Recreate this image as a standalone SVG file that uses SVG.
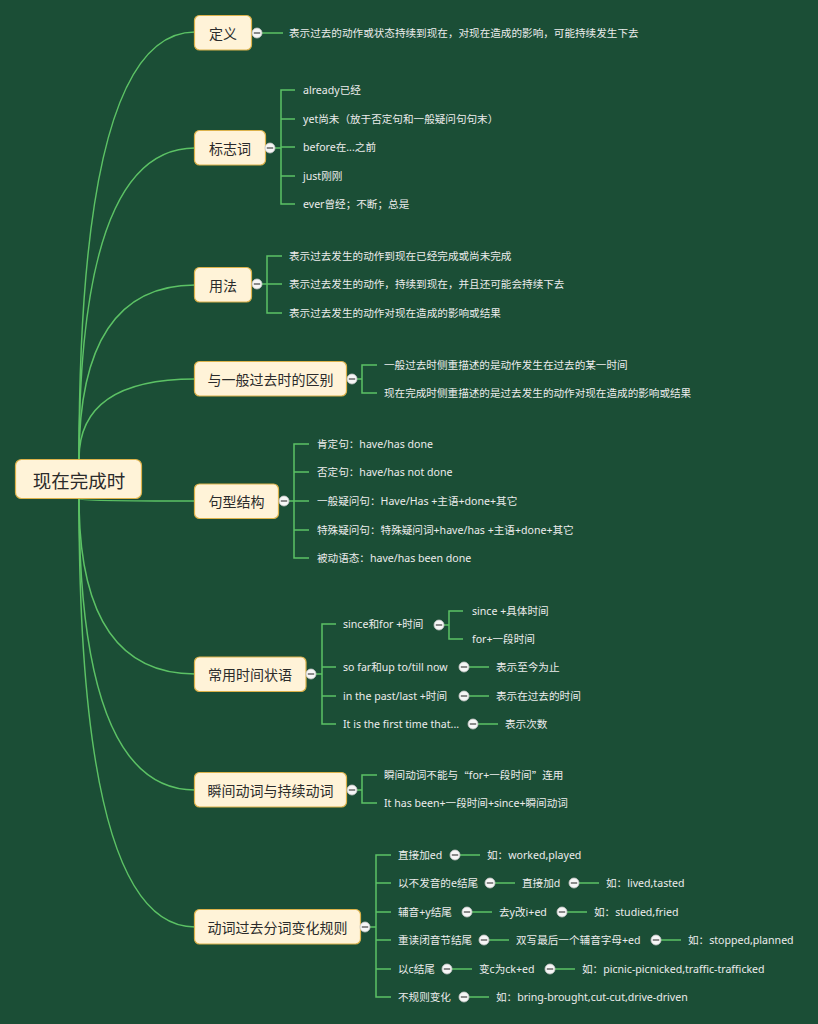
<svg xmlns="http://www.w3.org/2000/svg" width="818" height="1024" viewBox="0 0 818 1024">
<style>
.bg{fill:#1b4e36}
.box{fill:#fff3d8;stroke:#dcb24a;stroke-width:1.2}
.nt{font-family:"Noto Sans CJK SC","Noto Sans",sans-serif;font-size:14px;fill:#2b2b2b;text-anchor:middle;dominant-baseline:central}
.rt{font-size:18.5px}
.lt{font-family:"Noto Sans","Noto Sans CJK SC",sans-serif;font-size:10.6px;fill:#ececec;dominant-baseline:central}
.cjk{font-family:"Noto Sans CJK SC",sans-serif}
.ln{fill:none;stroke:#5cc265;stroke-width:1.5}
.cb{fill:#f6f6f6;stroke:#c8c8c8;stroke-width:0.8}
.cd{stroke:#666;stroke-width:1.5}
</style>
<defs>
<g id="col"><circle class="cb" r="5"/><line class="cd" x1="-3.2" y1="0" x2="3.2" y2="0"/></g>
</defs>
<rect class="bg" x="0" y="0" width="818" height="1024"/>
<g id="connectors">
<path class="ln" d="M79,459 Q79,32 195,32"/>
<path class="ln" d="M79,459 Q79,148 195,148"/>
<path class="ln" d="M79,459 Q79,285 195,285"/>
<path class="ln" d="M79,459 Q79,379 195,379"/>
<path class="ln" d="M79,499 Q79,501 195,501"/>
<path class="ln" d="M79,499 Q79,674 195,674"/>
<path class="ln" d="M79,499 Q79,790 195,790"/>
<path class="ln" d="M79,499 Q79,927 195,927"/>
<path class="ln" d="M262,33 H283"/>
<path class="ln" d="M275,148 H281 M295,90 H281 V204 H295 M281,119 H295 M281,147 H295 M281,176 H295"/>
<path class="ln" d="M262,284 H267 M282,256 H267 V313 H282 M267,284 H282"/>
<path class="ln" d="M357,379 H362 M377,365 H362 V393 H377"/>
<path class="ln" d="M289,501 H294 M309,444 H294 V558 H309 M294,472 H309 M294,501 H309 M294,530 H309"/>
<path class="ln" d="M316,674 H322 M336,624 H322 V724 H336 M322,667 H336 M322,696 H336"/>
<path class="ln" d="M444,625 H449 M463,611 H449 V639 H463"/>
<path class="ln" d="M469,667 H489 M469,696 H489 M478,724 H498"/>
<path class="ln" d="M357,790 H362 M377,775 H362 V803 H377"/>
<path class="ln" d="M370,927 H376 M391,855 H376 V997 H391 M376,883 H391 M376,912 H391 M376,940 H391 M376,969 H391"/>
<path class="ln" d="M460,855 H480 M495,883 H515 M579,883 H599 M472,912 H492 M567,912 H587 M489,940 H509 M661,940 H681 M452,969 H472 M555,969 H575 M469,997 H489"/>
</g>
<g id="root">
<rect class="box" x="15.5" y="459.5" width="126" height="39" rx="6"/>
<text class="nt rt" x="79" y="479.5">现在完成时</text>
</g>
<g id="n-dingyi">
<rect class="box" x="194.5" y="15.5" width="57" height="34.5" rx="5"/>
<text class="nt" x="223" y="32.5">定义</text>
<use href="#col" x="257" y="33"/>
<text class="lt" x="289" y="33">表示过去的动作或状态持续到现在，对现在造成的影响，可能持续发生下去</text>
</g>
<g id="n-biaozhi">
<rect class="box" x="194.5" y="130.5" width="71" height="34.5" rx="5"/>
<text class="nt" x="230" y="148">标志词</text>
<use href="#col" x="270" y="148"/>
<text class="lt" x="303" y="90">already已经</text>
<text class="lt" x="303" y="119">yet尚未（放于否定句和一般疑问句句末）</text>
<text class="lt" x="303" y="147">before在...之前</text>
<text class="lt" x="303" y="176">just刚刚</text>
<text class="lt" x="303" y="204">ever曾经；不断；总是</text>
</g>
<g id="n-yongfa">
<rect class="box" x="194.5" y="267.5" width="57" height="34.5" rx="5"/>
<text class="nt" x="223" y="284.5">用法</text>
<use href="#col" x="257" y="284"/>
<text class="lt" x="289" y="256">表示过去发生的动作到现在已经完成或尚未完成</text>
<text class="lt" x="289" y="284">表示过去发生的动作，持续到现在，并且还可能会持续下去</text>
<text class="lt" x="289" y="313">表示过去发生的动作对现在造成的影响或结果</text>
</g>
<g id="n-qubie">
<rect class="box" x="194.5" y="361.5" width="152" height="34.5" rx="5"/>
<text class="nt" x="270.5" y="379">与一般过去时的区别</text>
<use href="#col" x="352" y="379"/>
<text class="lt" x="384" y="365">一般过去时侧重描述的是动作发生在过去的某一时间</text>
<text class="lt" x="384" y="393">现在完成时侧重描述的是过去发生的动作对现在造成的影响或结果</text>
</g>
<g id="n-juxing">
<rect class="box" x="194.5" y="484" width="84" height="34.5" rx="5"/>
<text class="nt" x="236.5" y="501">句型结构</text>
<use href="#col" x="284" y="501"/>
<text class="lt" x="317" y="444">肯定句：have/has done</text>
<text class="lt" x="317" y="472">否定句：have/has not done</text>
<text class="lt" x="317" y="501">一般疑问句：Have/Has +主语+done+其它</text>
<text class="lt" x="317" y="530">特殊疑问句：特殊疑问词+have/has +主语+done+其它</text>
<text class="lt" x="317" y="558">被动语态：have/has been done</text>
</g>
<g id="n-changyong">
<rect class="box" x="194.5" y="657" width="111.5" height="34.5" rx="5"/>
<text class="nt" x="250" y="674">常用时间状语</text>
<use href="#col" x="311" y="674"/>
<text class="lt" x="343" y="624">since和for +时间</text>
<use href="#col" x="439" y="625"/>
<text class="lt" x="472" y="611">since +具体时间</text>
<text class="lt" x="472" y="639">for+一段时间</text>
<text class="lt" x="343" y="667">so far和up to/till now</text>
<use href="#col" x="464" y="667"/>
<text class="lt" x="496" y="667">表示至今为止</text>
<text class="lt" x="343" y="696">in the past/last +时间</text>
<use href="#col" x="464" y="696"/>
<text class="lt" x="496" y="696">表示在过去的时间</text>
<text class="lt" x="343" y="724">It is the first time that...</text>
<use href="#col" x="473" y="724"/>
<text class="lt" x="505" y="724">表示次数</text>
</g>
<g id="n-shunjian">
<rect class="box" x="194.5" y="772.5" width="152" height="34.5" rx="5"/>
<text class="nt" x="270.5" y="790">瞬间动词与持续动词</text>
<use href="#col" x="352" y="790"/>
<text class="lt" x="384" y="775">瞬间动词不能与<tspan class="cjk">“</tspan>for+一段时间<tspan class="cjk">”</tspan>连用</text>
<text class="lt" x="384" y="803">It has been+一段时间+since+瞬间动词</text>
</g>
<g id="n-guize">
<rect class="box" x="194.5" y="909.5" width="166" height="34.5" rx="5"/>
<text class="nt" x="277.5" y="927">动词过去分词变化规则</text>
<use href="#col" x="365" y="927"/>
<text class="lt" x="398" y="855">直接加ed</text>
<use href="#col" x="455" y="855"/>
<text class="lt" x="487" y="855">如：worked,played</text>
<text class="lt" x="398" y="883">以不发音的e结尾</text>
<use href="#col" x="490" y="883"/>
<text class="lt" x="522" y="883">直接加d</text>
<use href="#col" x="574" y="883"/>
<text class="lt" x="606" y="883">如：lived,tasted</text>
<text class="lt" x="398" y="912">辅音+y结尾</text>
<use href="#col" x="467" y="912"/>
<text class="lt" x="499" y="912">去y改i+ed</text>
<use href="#col" x="562" y="912"/>
<text class="lt" x="594" y="912">如：studied,fried</text>
<text class="lt" x="398" y="940">重读闭音节结尾</text>
<use href="#col" x="484" y="940"/>
<text class="lt" x="516" y="940">双写最后一个辅音字母+ed</text>
<use href="#col" x="656" y="940"/>
<text class="lt" x="688" y="940">如：stopped,planned</text>
<text class="lt" x="398" y="969">以c结尾</text>
<use href="#col" x="447" y="969"/>
<text class="lt" x="479" y="969">变c为ck+ed</text>
<use href="#col" x="550" y="969"/>
<text class="lt" x="582" y="969">如：picnic-picnicked,traffic-trafficked</text>
<text class="lt" x="398" y="997">不规则变化</text>
<use href="#col" x="464" y="997"/>
<text class="lt" x="496" y="997">如：bring-brought,cut-cut,drive-driven</text>
</g>
</svg>
